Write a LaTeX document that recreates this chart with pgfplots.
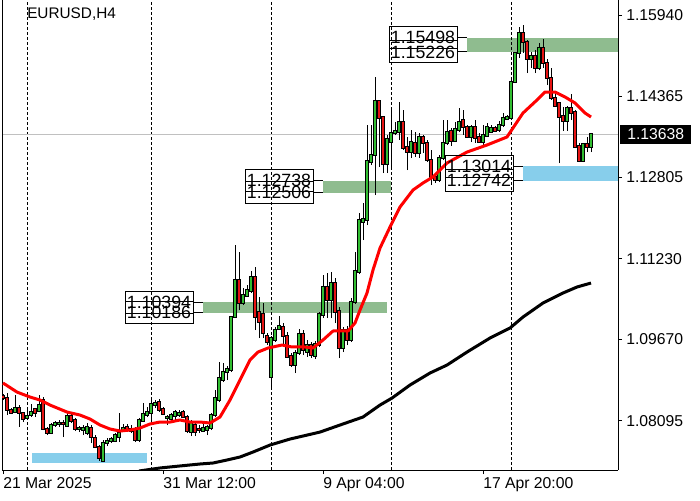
\documentclass[border=0pt]{standalone}
\usepackage{pgfplots}
\usepackage{pgfplotstable}
\pgfplotsset{compat=1.18}
\usepackage{fontspec}
\setmainfont{Liberation Sans}

\definecolor{bullgreen}{RGB}{50,190,50}
\definecolor{bearred}{RGB}{230,20,20}
\definecolor{zonegreen}{RGB}{143,188,143}
\definecolor{zoneblue}{RGB}{135,206,235}
\definecolor{pricegrey}{RGB}{192,192,192}

% EURUSD H4 candles, close above open: index, open, high, low, close
\pgfplotstableread{
i o h l c
3 1.08268 1.08596 1.08249 1.08345
6 1.08152 1.08307 1.08114 1.08191
7 1.08210 1.08423 1.08172 1.08268
9 1.08288 1.08596 1.08268 1.08403
12 1.07862 1.08056 1.07843 1.08017
13 1.08017 1.08095 1.07979 1.08056
14 1.08037 1.08114 1.07979 1.08056
16 1.07998 1.08249 1.07979 1.08191
19 1.07940 1.07998 1.07881 1.07959
20 1.07920 1.08017 1.07823 1.07959
21 1.07862 1.08056 1.07823 1.07979
25 1.07322 1.07727 1.07302 1.07669
26 1.07669 1.07765 1.07611 1.07708
27 1.07708 1.07785 1.07669 1.07746
28 1.07708 1.07862 1.07688 1.07823
29 1.07785 1.08249 1.07688 1.07862
30 1.07920 1.08037 1.07881 1.07959
34 1.07727 1.08152 1.07688 1.08114
35 1.08095 1.08442 1.08075 1.08230
36 1.08210 1.08365 1.08172 1.08268
37 1.08249 1.08538 1.08056 1.08423
38 1.08403 1.08500 1.08345 1.08442
41 1.08152 1.08210 1.08017 1.08172
42 1.08133 1.08249 1.08095 1.08210
43 1.08191 1.08307 1.08114 1.08268
44 1.08210 1.08307 1.08172 1.08249
47 1.07881 1.08114 1.07804 1.08056
50 1.07901 1.08037 1.07881 1.07959
51 1.07920 1.08017 1.07823 1.07979
52 1.07959 1.08249 1.07920 1.08210
53 1.08210 1.08693 1.08172 1.08538
54 1.08500 1.09234 1.08461 1.08925
55 1.08887 1.09215 1.08848 1.09041
56 1.09041 1.09157 1.08887 1.09099
57 1.09080 1.10123 1.09041 1.10104
58 1.10104 1.11495 1.10084 1.10819
60 1.10375 1.10664 1.10336 1.10529
61 1.10510 1.10722 1.10491 1.10626
62 1.10607 1.10993 1.10568 1.10877
67 1.08945 1.09737 1.08732 1.09698
68 1.09660 1.09911 1.09621 1.09853
69 1.09872 1.10123 1.09853 1.09930
73 1.09176 1.09466 1.09022 1.09408
74 1.09408 1.09872 1.09369 1.09776
76 1.09427 1.09660 1.09331 1.09563
78 1.09350 1.09641 1.09292 1.09583
79 1.09563 1.10200 1.09525 1.10162
80 1.10142 1.10915 1.10084 1.10684
82 1.10433 1.10973 1.10084 1.10761
85 1.09505 1.09911 1.09427 1.09853
87 1.09660 1.10471 1.09621 1.10394
88 1.10394 1.11360 1.10356 1.10993
89 1.10973 1.12114 1.10935 1.11979
90 1.11940 1.12307 1.11592 1.11998
91 1.11979 1.13814 1.11882 1.13119
92 1.13099 1.13814 1.13041 1.13234
93 1.13234 1.14742 1.12461 1.14279
96 1.13061 1.13621 1.12887 1.13544
97 1.13486 1.14104 1.13003 1.13660
98 1.13660 1.13872 1.13621 1.13699
99 1.13679 1.14259 1.13525 1.13872
102 1.13292 1.13718 1.13176 1.13486
104 1.13273 1.13660 1.13176 1.13583
109 1.12752 1.13234 1.12713 1.13176
110 1.13176 1.13911 1.13138 1.13467
111 1.13467 1.13911 1.13428 1.13679
113 1.13506 1.13872 1.13486 1.13737
114 1.13718 1.14143 1.13679 1.13872
117 1.13583 1.13814 1.13486 1.13776
120 1.13486 1.13814 1.13390 1.13621
121 1.13602 1.13853 1.13583 1.13776
122 1.13679 1.13814 1.13660 1.13756
124 1.13718 1.13892 1.13679 1.13814
125 1.13814 1.14046 1.13776 1.13949
126 1.13930 1.14008 1.13911 1.13969
127 1.13949 1.14684 1.13911 1.14645
128 1.14645 1.15225 1.14626 1.15206
129 1.15206 1.15709 1.15109 1.15592
132 1.15090 1.15225 1.14916 1.15148
134 1.14916 1.15399 1.14877 1.15302
141 1.13892 1.14182 1.13699 1.14143
145 1.13119 1.13467 1.13099 1.13448
147 1.13390 1.13660 1.13292 1.13638
}\bull

% close below open
\pgfplotstableread{
i o h l c
0 1.08577 1.08616 1.08500 1.08538
1 1.08538 1.08635 1.08210 1.08307
2 1.08307 1.08345 1.08230 1.08249
4 1.08345 1.08403 1.07979 1.08249
5 1.08249 1.08268 1.08075 1.08133
8 1.08326 1.08345 1.08172 1.08249
10 1.08500 1.08558 1.07920 1.07940
11 1.07940 1.07979 1.07823 1.07862
15 1.08056 1.08114 1.07785 1.08037
17 1.08191 1.08249 1.08056 1.08095
18 1.08114 1.08152 1.07901 1.07940
22 1.07959 1.08017 1.07669 1.07785
23 1.07765 1.07823 1.07572 1.07592
24 1.07592 1.07630 1.07322 1.07379
31 1.07979 1.08037 1.07881 1.07920
32 1.07940 1.08017 1.07862 1.07901
33 1.07920 1.07979 1.07688 1.07727
39 1.08461 1.08519 1.08268 1.08307
40 1.08326 1.08365 1.08210 1.08230
45 1.08268 1.08307 1.08152 1.08172
46 1.08172 1.08210 1.07862 1.07901
48 1.08017 1.08075 1.07804 1.07881
49 1.07940 1.08017 1.07862 1.07920
59 1.10819 1.11360 1.10239 1.10375
63 1.10877 1.11071 1.09853 1.10104
64 1.10200 1.10491 1.09698 1.10007
65 1.10162 1.10375 1.09698 1.09795
66 1.09737 1.09795 1.09563 1.09621
70 1.09911 1.09988 1.09563 1.09737
71 1.09737 1.09814 1.09311 1.09331
72 1.09350 1.09408 1.09138 1.09176
75 1.09776 1.09853 1.09369 1.09466
77 1.09563 1.09621 1.09311 1.09369
81 1.10684 1.10954 1.10084 1.10433
83 1.10761 1.10857 1.09988 1.10200
84 1.10220 1.10298 1.09311 1.09505
86 1.09853 1.09930 1.09563 1.09660
94 1.14279 1.14298 1.13003 1.13949
95 1.13969 1.13988 1.12887 1.13061
100 1.13872 1.14104 1.13331 1.13370
101 1.13390 1.13583 1.12945 1.13292
103 1.13467 1.13679 1.13196 1.13273
105 1.13583 1.13621 1.13273 1.13467
106 1.13467 1.13525 1.13099 1.13138
107 1.13138 1.13331 1.12655 1.12810
108 1.12810 1.12887 1.12694 1.12752
112 1.13699 1.13756 1.13409 1.13506
115 1.13911 1.14104 1.13621 1.13776
116 1.13776 1.13814 1.13563 1.13583
118 1.13776 1.13911 1.13467 1.13563
119 1.13583 1.13660 1.13467 1.13486
123 1.13756 1.13795 1.13679 1.13699
130 1.15592 1.15747 1.15206 1.15418
131 1.15418 1.15457 1.14819 1.15090
133 1.15148 1.15264 1.14819 1.14916
135 1.15302 1.15476 1.14916 1.15013
136 1.15013 1.15090 1.14587 1.14722
137 1.14722 1.14916 1.14298 1.14336
138 1.14336 1.14433 1.14163 1.14182
139 1.14240 1.14259 1.13080 1.13969
140 1.13988 1.14163 1.13699 1.13892
142 1.14143 1.14414 1.13911 1.14046
143 1.14065 1.14104 1.13370 1.13390
144 1.13409 1.13467 1.13099 1.13119
146 1.13448 1.13583 1.13292 1.13390
}\bear

% fast moving average (red)
\pgfplotstableread{
i v
0 1.08829
3.5 1.08654
6.75 1.08558
9.25 1.08500
11.75 1.08403
16 1.08268
19.25 1.08210
21.75 1.08133
24.25 1.08017
26.75 1.07940
29.25 1.07901
31.75 1.07920
34.25 1.07959
36.75 1.08037
39.25 1.08075
41.75 1.08075
44.25 1.08114
46.75 1.08075
49.25 1.08075
51.75 1.08056
54.25 1.08172
56.75 1.08500
59.25 1.08887
61.75 1.09273
63.75 1.09427
66.25 1.09505
69.75 1.09563
72.25 1.09525
75.5 1.09525
77.5 1.09505
80 1.09660
82.5 1.09834
86.25 1.09834
88 1.09988
89.25 1.10239
91 1.10568
92.5 1.11012
94.25 1.11437
96.75 1.11843
99.25 1.12230
102.5 1.12558
105 1.12694
107.5 1.12810
111 1.13080
116 1.13292
121 1.13428
126 1.13583
127.5 1.13756
130 1.14046
133.5 1.14298
135.5 1.14452
138 1.14452
140.5 1.14356
143 1.14240
145.5 1.14046
147 1.13969
}\maRed

% slow moving average (black)
\pgfplotstableread{
i v
34 1.07129
39.25 1.07187
44.25 1.07226
49.25 1.07264
52.5 1.07283
56 1.07341
59.25 1.07399
62.5 1.07495
66.75 1.07630
71.75 1.07746
79.25 1.07881
84.25 1.08017
90 1.08172
94.25 1.08403
97.25 1.08538
101.75 1.08790
106.75 1.09022
111 1.09176
116 1.09427
121.75 1.09698
126.75 1.09891
130 1.10104
135 1.10375
140 1.10568
143.5 1.10684
147 1.10761
}\maBlack

\newcommand{\lvlfont}{\fontsize{13.3}{15}\selectfont}
% #1 box left, #2 box right, #3 zone start, #4 upper price, #5 lower price
\newcommand{\levelbox}[5]{%
  \draw[line width=0.75pt] ([yshift=8.25pt]axis cs:#1,#4) rectangle ([yshift=-8.25pt]axis cs:#2,#4);
  \draw[line width=0.75pt] ([yshift=8.25pt]axis cs:#1,#5) rectangle ([yshift=-8.25pt]axis cs:#2,#5);
  \draw[line width=0.75pt] (axis cs:#2,#4) -- (axis cs:#3,#4);
  \draw[line width=0.75pt] (axis cs:#2,#5) -- (axis cs:#3,#5);
  \node[inner sep=0pt, font=\lvlfont] at (axis cs:{(#1+#2)/2},#4) {#4};
  \node[inner sep=0pt, font=\lvlfont] at (axis cs:{(#1+#2)/2},#5) {#5};
}

\pgfplotsset{
  candle bar/.style={draw=none, mark=none, error bars/y dir=plus,
    error bars/y explicit, error bars/error mark=none},
  body outline/.style={error bars/error bar style={draw=black, line width=2.5pt,
    shorten <=-0.7pt, shorten >=-0.7pt}},
}

\begin{document}
\begin{tikzpicture}
\useasboundingbox (0,0) rectangle (525pt,375pt);
\begin{axis}[
  at={(1.5pt,22.5pt)}, anchor=south west,
  scale only axis, width=462pt, height=352.5pt,
  xmin=-0.25, xmax=153.75,
  ymin=1.07148, ymax=1.16230,
  clip mode=individual,
  axis x line*=bottom, axis y line*=right,
  axis line style={line width=0.75pt},
  tick align=outside, major tick length=3pt,
  tick style={black, line width=0.75pt},
  xtick={0,40,80,120},
  xticklabels={21 Mar 2025, 31 Mar 12:00, 9 Apr 04:00, 17 Apr 20:00},
  xticklabel style={anchor=north west, inner sep=0pt, yshift=-2.25pt, font=\fontsize{11.8}{14}\selectfont},
  ytick={1.08095,1.09670,1.11230,1.12805,1.14365,1.15940},
  yticklabels={1.08095,1.09670,1.11230,1.12805,1.14365,1.15940},
  yticklabel style={anchor=west, inner sep=0pt, xshift=3pt, font=\fontsize{11.8}{14}\selectfont},
]
% zones
\fill[zonegreen] (axis cs:116,1.15498) rectangle (axis cs:153.75,1.15226);
\fill[zonegreen] (axis cs:80,1.12738) rectangle (axis cs:96.9,1.12506);
\fill[zonegreen] (axis cs:50,1.10394) rectangle (axis cs:95.9,1.10186);
\fill[zoneblue] (axis cs:130,1.13014) rectangle (axis cs:153.75,1.12742);
\fill[zoneblue] (axis cs:7.25,1.07476) rectangle (axis cs:36,1.07283);

% period separators and current price
\draw[line width=0.75pt, dash pattern=on 2.25pt off 1.5pt] (axis cs:6,1.07148) -- (axis cs:6,1.1623);
\draw[line width=0.75pt, dash pattern=on 2.25pt off 1.5pt] (axis cs:37,1.07148) -- (axis cs:37,1.1623);
\draw[line width=0.75pt, dash pattern=on 2.25pt off 1.5pt] (axis cs:67,1.07148) -- (axis cs:67,1.1623);
\draw[line width=0.75pt, dash pattern=on 2.25pt off 1.5pt] (axis cs:97,1.07148) -- (axis cs:97,1.1623);
\draw[line width=0.75pt, dash pattern=on 2.25pt off 1.5pt] (axis cs:127,1.07148) -- (axis cs:127,1.1623);
\draw[pricegrey, line width=0.75pt] (axis cs:-0.25,1.13638) -- (axis cs:153.75,1.13638);
\draw[line width=0.75pt] (rel axis cs:0,0) -- (rel axis cs:0,1);

% wicks
\addplot[candle bar, error bars/error bar style={draw=black, line width=0.75pt}]
  table[x=i, y=l, y error expr=\thisrow{h}-\thisrow{l}] {\bull};
\addplot[candle bar, error bars/error bar style={draw=black, line width=0.75pt}]
  table[x=i, y=l, y error expr=\thisrow{h}-\thisrow{l}] {\bear};
% bodies
\addplot[candle bar, body outline]
  table[x=i, y=o, y error expr=\thisrow{c}-\thisrow{o}] {\bull};
\addplot[candle bar, error bars/error bar style={draw=bullgreen, line width=1.1pt}]
  table[x=i, y=o, y error expr=\thisrow{c}-\thisrow{o}] {\bull};
\addplot[candle bar, body outline]
  table[x=i, y=c, y error expr=\thisrow{o}-\thisrow{c}] {\bear};
\addplot[candle bar, error bars/error bar style={draw=bearred, line width=1.1pt}]
  table[x=i, y=c, y error expr=\thisrow{o}-\thisrow{c}] {\bear};

% moving averages
\addplot[black, line width=2.25pt, line join=round] table[x=i, y=v] {\maBlack};
\addplot[red, line width=2.25pt, line join=round] table[x=i, y=v] {\maRed};

% level labels
\levelbox{96.5}{113.5}{116}{1.15498}{1.15226}
\levelbox{60.5}{77.5}{80}{1.12738}{1.12506}
\levelbox{30.5}{47.5}{50}{1.10394}{1.10186}
\levelbox{110.5}{127.5}{130}{1.13014}{1.12742}

\node[anchor=west, inner sep=0pt, font=\fontsize{11.5}{14}\selectfont] at (axis cs:6,1.1596) {EURUSD,H4};

% current price tag
\fill[black] ([xshift=1.5pt, yshift=-7.5pt]axis cs:153.75,1.13638) rectangle ([xshift=54.75pt, yshift=6.75pt]axis cs:153.75,1.13638);
\node[anchor=west, inner sep=0pt, text=white, font=\fontsize{11.8}{14}\selectfont] at ([xshift=6.75pt]axis cs:153.75,1.13638) {1.13638};
\end{axis}
\end{tikzpicture}
\end{document}
